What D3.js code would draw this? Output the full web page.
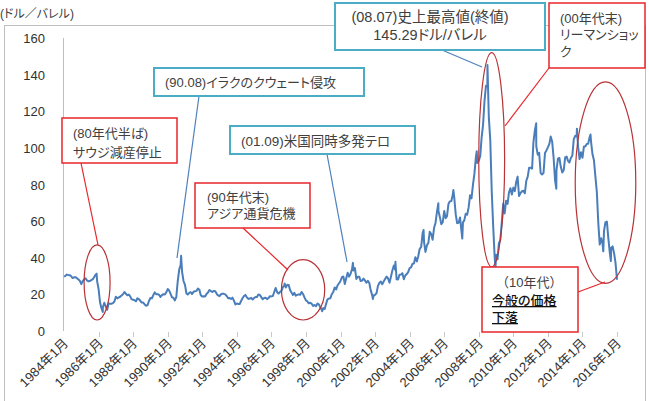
<!DOCTYPE html>
<html>
<head>
<meta charset="utf-8">
<script src="https://cdn.jsdelivr.net/npm/d3@7"></script>
<style>
  body { margin: 0; background: #fff; }
  svg text { font-family: "Liberation Sans", "Noto Sans CJK JP", sans-serif; font-feature-settings: "palt"; }
</style>
</head>
<body>
<div id="chart"></div>
<script>
// WTI monthly prices (USD/bbl), Jan of first year onward
var price1980s = [ // 1984-01 .. 1989-12
  29.7, 30.1, 30.8, 30.6, 30.5, 29.9, 28.9, 29.3, 29.4, 28.8, 28.1, 27.4,
  25.6, 27.3, 28.2, 28.8, 27.6, 27.1, 27.3, 27.8, 28.3, 29.5, 30.8, 27.2,
  22.9, 15.5, 12.6, 12.8, 15.4, 13.4, 11.6, 15.1, 14.9, 14.9, 15.2, 16.1,
  18.7, 17.8, 18.3, 18.7, 19.4, 20.1, 21.3, 20.3, 19.5, 19.9, 18.9, 17.3,
  17.1, 16.8, 16.2, 17.9, 17.4, 16.5, 15.5, 15.5, 14.5, 13.8, 14.1, 16.4,
  18.0, 17.9, 19.5, 21.1, 20.1, 20.1, 19.8, 18.6, 19.6, 20.1, 19.9, 21.1
];
var price1990s = [ // 1990-01 .. 1999-12
  22.9, 22.1, 20.4, 18.4, 18.2, 16.7, 18.5, 27.3, 33.5, 36.0, 32.3, 27.3,
  25.2, 20.5, 19.9, 20.8, 21.2, 20.2, 21.4, 21.7, 21.9, 23.2, 22.5, 19.5,
  18.8, 19.0, 18.9, 20.2, 21.0, 22.4, 21.8, 21.3, 21.9, 21.7, 20.3, 19.4,
  19.0, 20.1, 20.3, 20.3, 20.0, 19.1, 17.9, 18.0, 17.5, 18.2, 16.6, 14.5,
  15.0, 14.8, 14.7, 16.4, 17.9, 19.1, 19.7, 18.4, 17.5, 17.7, 18.1, 17.2,
  18.0, 18.6, 18.5, 19.9, 19.7, 18.5, 17.3, 18.0, 18.2, 17.4, 18.0, 19.0,
  18.9, 19.1, 21.3, 23.5, 21.2, 20.4, 21.3, 21.9, 24.0, 24.9, 23.7, 25.2,
  25.1, 22.2, 21.0, 19.7, 20.8, 19.3, 19.7, 20.0, 19.8, 21.3, 20.2, 18.3,
  16.7, 16.1, 15.1, 15.4, 14.9, 13.7, 14.2, 13.5, 15.0, 14.5, 13.0, 11.4,
  12.5, 12.0, 14.7, 17.3, 17.7, 17.9, 20.1, 21.3, 23.8, 22.7, 25.0, 26.1
];
var price2000s = [ // 2000-01 .. 2009-12
  27.3, 29.4, 29.8, 25.7, 28.8, 31.8, 29.7, 31.3, 33.9, 33.1, 34.4, 28.4,
  29.6, 29.6, 27.3, 27.5, 28.6, 27.6, 26.4, 27.4, 26.2, 22.2, 19.6, 19.4,
  19.7, 20.7, 24.5, 26.2, 27.0, 25.5, 27.0, 28.4, 29.7, 28.8, 26.4, 29.5,
  33.0, 35.8, 33.5, 28.2, 28.1, 30.7, 30.8, 31.6, 28.3, 30.3, 31.1, 32.1,
  34.3, 34.7, 36.7, 36.8, 40.3, 38.0, 40.8, 44.9, 45.9, 53.3, 48.5, 43.2,
  46.8, 48.2, 54.2, 53.0, 49.8, 56.4, 59.0, 65.0, 65.6, 62.3, 58.3, 59.4,
  65.5, 61.6, 62.7, 69.4, 70.8, 71.0, 74.4, 73.0, 63.8, 58.9, 59.1, 62.0,
  54.5, 59.3, 60.4, 64.0, 63.5, 67.5, 74.1, 72.4, 79.9, 85.8, 94.8, 91.7,
  93.0, 95.4, 105.5, 112.6, 125.4, 133.9, 133.4, 116.7, 104.1, 76.6, 57.3, 41.1,
  41.7, 39.1, 47.9, 49.7, 59.0, 69.6, 64.2, 71.1, 69.4, 75.7, 78.0, 74.5
];
var price2010s = [ // 2010-01 .. 2016-01
  78.3, 76.4, 81.2, 84.3, 73.7, 75.3, 76.3, 76.6, 75.2, 81.9, 84.3, 89.2,
  89.2, 88.6, 102.9, 109.5, 100.9, 96.3, 97.3, 86.3, 85.5, 86.3, 97.2, 98.6,
  100.3, 102.2, 106.2, 103.3, 94.7, 82.3, 87.9, 94.1, 94.5, 89.5, 86.5, 87.9,
  94.8, 95.3, 92.9, 92.0, 94.5, 95.8, 104.7, 106.6, 106.3, 100.5, 93.9, 97.6,
  94.6, 100.8, 100.8, 102.1, 102.2, 105.8, 103.6, 96.5, 93.2, 84.4, 75.8, 59.3,
  47.2, 50.6, 47.8, 54.5, 59.3, 59.8, 50.9, 42.9, 45.5, 46.2, 42.4, 37.2,
  28.0
];
// intra-month extremes visible in the picture
var extremes = [
  ["1985-11-20", 31.3], ["1986-03-31", 10.4], ["1990-10-11", 41.1],
  ["1996-10-08", 26.0], ["1998-12-10", 10.8], ["2000-09-20", 37.2],
  ["2001-11-15", 17.5], ["2003-03-07", 37.8], ["2004-10-22", 55.2],
  ["2005-08-30", 69.8], ["2006-07-14", 77.0], ["2007-01-18", 50.5],
  ["2007-11-20", 98.2], ["2008-07-03", 145.3], ["2008-12-19", 33.9],
  ["2011-04-29", 113.4], ["2012-06-27", 77.7], ["2013-09-06", 110.5],
  ["2014-06-20", 107.3], ["2015-03-17", 43.5], ["2015-08-24", 38.2]
];
var tickYears = [1984, 1986, 1988, 1990, 1992, 1994, 1996, 1998, 2000,
  2002, 2004, 2006, 2008, 2010, 2012, 2014, 2016];
var yTicks = [0, 20, 40, 60, 80, 100, 120, 140, 160];
var yTitle = "(ドル／バレル)";

var W = 649, H = 401;
var parse = d3.timeParse("%Y-%m-%d");

// build series
var monthly = price1980s.concat(price1990s, price2000s, price2010s);
var data = monthly.map(function (v, i) {
  return { date: new Date(1984 + Math.floor(i / 12), i % 12, 1), value: v };
});
extremes.forEach(function (e) { data.push({ date: parse(e[0]), value: e[1] }); });
data.sort(function (a, b) { return a.date - b.date; });

var svg = d3.select("#chart").append("svg")
  .attr("width", W).attr("height", H);

// outer border
svg.append("rect")
  .attr("x", 4.5).attr("y", 25.5).attr("width", 641).attr("height", 380)
  .attr("fill", "none").attr("stroke", "#bfbfbf");

svg.append("text")
  .attr("x", 0).attr("y", 18)
  .attr("font-size", 12).attr("fill", "#404040")
  .text(yTitle);

var x = d3.scaleTime()
  .domain([new Date(1984, 0, 1), new Date(2016, 0, 1)])
  .range([64, 617]);
var y = d3.scaleLinear().domain([0, 160]).range([331, 38]);

// y axis
svg.append("line")
  .attr("x1", 63.5).attr("x2", 63.5).attr("y1", 38).attr("y2", 331)
  .attr("stroke", "#bfbfbf");
svg.selectAll(".ytick")
  .data(yTicks)
  .join("text")
  .attr("class", "ytick")
  .attr("x", 45).attr("y", function (d) { return y(d) + 5; })
  .attr("text-anchor", "end")
  .attr("font-size", 13).attr("fill", "#303030")
  .text(function (d) { return d; });

// x ticks
var xt = svg.selectAll(".xtick")
  .data(tickYears)
  .join("g")
  .attr("class", "xtick")
  .attr("transform", function (d) { return "translate(" + Math.round(x(new Date(d, 0, 1))) + ",0)"; });
xt.filter(function (d) { return d !== 1984; })
  .append("line")
  .attr("x1", 0.5).attr("x2", 0.5).attr("y1", 332).attr("y2", 337)
  .attr("stroke", "#c8c8c8");
xt.append("text")
  .attr("transform", "translate(5,344) rotate(-45)")
  .attr("text-anchor", "end")
  .attr("font-size", 13).attr("fill", "#303030")
  .text(function (d) { return d + "年1月"; });

// price line
var line = d3.line()
  .x(function (d) { return x(d.date); })
  .y(function (d) { return y(d.value); });
svg.append("path")
  .datum(data)
  .attr("d", line)
  .attr("fill", "none")
  .attr("stroke", "#4a7ebb")
  .attr("stroke-width", 2)
  .attr("stroke-linejoin", "round");

// ellipses: [from, to, low value, high value]
var ellipses = [
  ["1985-03-01", "1986-09-01", 6, 47],
  ["1996-08-01", "1999-02-01", 6, 39],
  ["2008-01-01", "2009-07-01", 35, 152],
  ["2013-08-01", "2017-02-01", 26, 136]
];
svg.selectAll(".ell")
  .data(ellipses)
  .join("ellipse")
  .attr("class", "ell")
  .attr("cx", function (d) { return (x(parse(d[0])) + x(parse(d[1]))) / 2; })
  .attr("cy", function (d) { return (y(d[2]) + y(d[3])) / 2; })
  .attr("rx", function (d) { return (x(parse(d[1])) - x(parse(d[0]))) / 2; })
  .attr("ry", function (d) { return (y(d[2]) - y(d[3])) / 2; })
  .attr("fill", "none").attr("stroke", "#b83236").attr("stroke-width", 1.2);

// connectors
var RED = "#e8262b", AQUA = "#4bacc6", BLUE = "#4f81bd";
var connectors = [
  [81, 163, 98, 245, RED],
  [243, 228, 288, 270, RED],
  [199, 96, 177, 258, BLUE],
  [327, 154, 347, 262, BLUE],
  [442, 50, 482, 67, BLUE],
  [549, 68, 505, 126, RED],
  [578, 292, 605, 282, RED]
];
svg.selectAll(".conn")
  .data(connectors)
  .join("line")
  .attr("class", "conn")
  .attr("x1", function (d) { return d[0]; }).attr("y1", function (d) { return d[1]; })
  .attr("x2", function (d) { return d[2]; }).attr("y2", function (d) { return d[3]; })
  .attr("stroke", function (d) { return d[4]; }).attr("stroke-width", 1.2);

// annotation boxes
var boxes = [
  { x: 62, y: 118, w: 115, h: 45, c: RED, anchor: "start", tx: 73, fs: 13,
    lines: [{ t: "(80年代半ば)", y: 138 }, { t: "サウジ減産停止", y: 157 }] },
  { x: 154, y: 68, w: 210, h: 28, c: AQUA, anchor: "start", tx: 165, fs: 13,
    lines: [{ t: "(90.08)イラクのクウェート侵攻", y: 87 }] },
  { x: 230, y: 126, w: 185, h: 28, c: AQUA, anchor: "start", tx: 241, fs: 13.5,
    lines: [{ t: "(01.09)米国同時多発テロ", y: 146 }] },
  { x: 195, y: 183, w: 115, h: 45, c: RED, anchor: "start", tx: 207, fs: 13,
    lines: [{ t: "(90年代末)", y: 202 }, { t: "アジア通貨危機", y: 218 }] },
  { x: 335, y: 3, w: 210, h: 47, c: AQUA, anchor: "middle", tx: 430, fs: 14.5,
    lines: [{ t: "(08.07)史上最高値(終値)", y: 22 }, { t: "145.29ドル/バレル", y: 40 }] },
  { x: 549, y: 3, w: 96, h: 65, c: RED, anchor: "start", tx: 560, fs: 13,
    lines: [{ t: "(00年代末)", y: 23 }, { t: "リーマンショッ", y: 39 }, { t: "ク", y: 56 }] },
  { x: 482, y: 267, w: 96, h: 65, c: RED, anchor: "start", tx: 492, fs: 13,
    lines: [{ t: "（10年代）", y: 287, dx: 4, np: true }, { t: "今般の価格", y: 305, u: true }, { t: "下落", y: 322, u: true }] }
];
var bg = svg.selectAll(".box")
  .data(boxes)
  .join("g")
  .attr("class", "box");
bg.append("rect")
  .attr("x", function (d) { return d.x; }).attr("y", function (d) { return d.y; })
  .attr("width", function (d) { return d.w; }).attr("height", function (d) { return d.h; })
  .attr("fill", "#fff")
  .attr("stroke", function (d) { return d.c; })
  .attr("stroke-width", function (d) { return d.c === AQUA ? 2 : 1.5; });
bg.selectAll("text")
  .data(function (d) {
    return d.lines.map(function (l) { return { l: l, b: d }; });
  })
  .join("text")
  .attr("x", function (d) { return d.b.tx + (d.l.dx || 0); })
  .attr("y", function (d) { return d.l.y; })
  .attr("text-anchor", function (d) { return d.b.anchor; })
  .attr("font-size", function (d) { return d.b.fs; })
  .attr("fill", function (d) { return d.l.u ? "#111" : "#404040"; })
  .attr("font-weight", function (d) { return d.l.u ? 500 : 400; })
  .style("text-decoration", function (d) { return d.l.u ? "underline" : "none"; })
  .style("font-feature-settings", function (d) { return d.l.np ? "normal" : null; })
  .text(function (d) { return d.l.t; });
</script>
</body>
</html>
